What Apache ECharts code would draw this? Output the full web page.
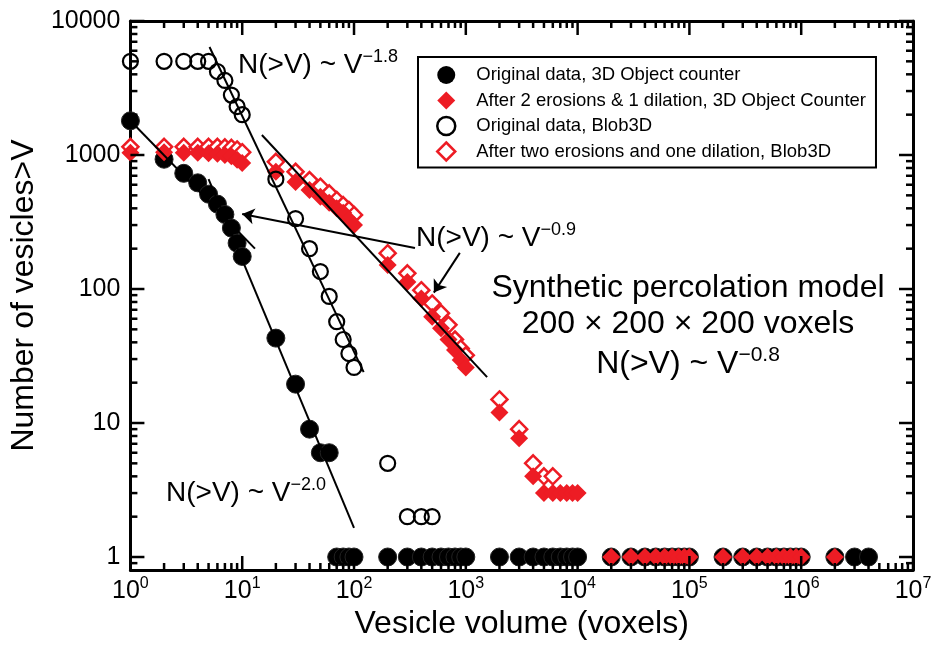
<!DOCTYPE html>
<html>
<head>
<meta charset="utf-8">
<script src="https://cdn.jsdelivr.net/npm/echarts@6/dist/echarts.min.js"></script>
<style>
  html, body { margin: 0; padding: 0; background: #fff; }
  #chart { width: 935px; height: 646px; }
</style>
</head>
<body>
<div id="chart"></div>
<script>
const FONT = '"Liberation Sans", Arial, Helvetica, sans-serif';
const RED = '#ED1C24';

// Axis ranges and tick labels
const X_MIN = 1, X_MAX = 1e7;
const Y_MIN = 0.8, Y_MAX = 10000;
const xTickExponents = ['0', '1', '2', '3', '4', '5', '6', '7'];
const yTickLabels = ['1', '10', '100', '1000', '10000'];

// Original data, 3D Object counter
const objVolumes = [1, 2, 3, 4, 5, 6, 7, 8, 9, 10,
  20, 30, 40, 50, 60, 70, 80, 90, 100,
  200, 300, 400, 500, 600, 700, 800, 900, 1000,
  2000, 3000, 4000, 5000, 6000, 7000, 8000, 9000, 10000,
  20000, 30000, 40000, 50000, 60000, 70000, 80000, 90000, 100000,
  200000, 300000, 400000, 500000, 600000, 700000, 800000, 900000, 1000000,
  2000000, 3000000, 4000000];
const objCounts = [1800, 930, 730, 620, 510, 430, 360, 285, 220, 175,
  43, 19.5, 9, 6, 6, 1, 1, 1, 1,
  1, 1, 1, 1, 1, 1, 1, 1, 1,
  1, 1, 1, 1, 1, 1, 1, 1, 1,
  1, 1, 1, 1, 1, 1, 1, 1, 1,
  1, 1, 1, 1, 1, 1, 1, 1, 1,
  1, 1, 1];

// After 2 erosions & 1 dilation, 3D Object Counter
const erodedObjVolumes = [1, 2, 3, 4, 5, 6, 7, 8, 9, 10,
  20, 30, 40, 50, 60, 70, 80, 90, 100,
  200, 300, 400, 500, 600, 700, 800, 900, 1000,
  2000, 3000, 4000, 5000, 6000, 7000, 8000, 9000, 10000,
  20000, 30000, 40000, 50000, 60000, 70000, 80000, 90000, 100000,
  200000, 300000, 400000, 500000, 600000, 700000, 800000, 900000, 1000000,
  2000000];
const erodedObjCounts = [1040, 1050, 1040, 1040, 1030, 1020, 1000, 980, 920, 870,
  750, 630, 548, 489, 440, 400, 370, 330, 300,
  151, 113, 85, 62, 51, 42, 35, 29.5, 26,
  12, 7.7, 4, 3, 3, 3, 3, 3, 3,
  1, 1, 1, 1, 1, 1, 1, 1, 1,
  1, 1, 1, 1, 1, 1, 1, 1, 1,
  1];

// Original data, Blob3D
const blobVolumes = [1, 2, 3, 4, 5, 6, 7, 8, 9, 10,
  20, 30, 40, 50, 60, 70, 80, 90, 100,
  200, 300, 400, 500];
const blobCounts = [5000, 5000, 5000, 5000, 5000, 4200, 3600, 2800, 2300, 2000,
  660, 335, 200, 135, 88, 57, 42, 33, 26,
  5, 2, 2, 2];

// After two erosions and one dilation, Blob3D
const erodedBlobVolumes = [1, 2, 3, 4, 5, 6, 7, 8, 9, 10,
  20, 30, 40, 50, 60, 70, 80, 90, 100,
  200, 300, 400, 500, 600, 700, 800, 900, 1000,
  2000, 3000, 4000, 5000, 6000];
const erodedBlobCounts = [1150, 1150, 1150, 1150, 1150, 1150, 1140, 1130, 1100, 1050,
  890, 750, 650, 580, 518, 462, 423, 389, 357,
  185, 131, 98, 78, 66, 54, 42, 36, 32,
  15, 9, 5, 4, 4];

// Power-law fits (end points)
const fitObjShallow = [[1, 1800], [13, 200]];
const fitObjSteep = [[5, 660], [100, 1.65]];
const fitBlob = [[5.1, 6400], [122, 24]];
const fitEroded = [[15, 1410], [1550, 22]];
// Pointers from the -0.9 label
const arrowToObj = [[351, 202], [10, 363]];
const arrowToEroded = [[884, 186], [518, 94]];

const pairs = (xs, ys) => xs.map((x, i) => [x, ys[i]]);

// Tick positions: decades plus 2..9 minor steps
function buildTicks(lo, hi) {
  const out = [];
  for (let e = -1; e <= 8; e++) {
    const d = Math.pow(10, e);
    if (d >= lo && d <= hi) out.push([d, 1]);
    for (let k = 2; k <= 9; k++) {
      const v = k * d;
      if (v > lo && v < hi) out.push([v, 0]);
    }
  }
  return out;
}
const xTicks = buildTicks(X_MIN, X_MAX);
const yTicks = buildTicks(Y_MIN, Y_MAX);

const TICK_STYLE = { stroke: '#000', lineWidth: 2.5 };
const MAJOR_LEN = 14, MINOR_LEN = 7;

function renderXTick(params, api) {
  const v = api.value(0);
  const len = api.value(2) === 1 ? MAJOR_LEN : MINOR_LEN;
  const b = api.coord([v, Y_MIN]);
  const t = api.coord([v, Y_MAX]);
  return {
    type: 'group',
    children: [
      { type: 'line', shape: { x1: b[0], y1: b[1], x2: b[0], y2: b[1] - len }, style: TICK_STYLE },
      { type: 'line', shape: { x1: t[0], y1: t[1], x2: t[0], y2: t[1] + len }, style: TICK_STYLE }
    ]
  };
}
function renderYTick(params, api) {
  const v = api.value(1);
  const len = api.value(2) === 1 ? MAJOR_LEN : MINOR_LEN;
  const l = api.coord([X_MIN, v]);
  const r = api.coord([X_MAX, v]);
  return {
    type: 'group',
    children: [
      { type: 'line', shape: { x1: l[0], y1: l[1], x2: l[0] + len, y2: l[1] }, style: TICK_STYLE },
      { type: 'line', shape: { x1: r[0], y1: r[1], x2: r[0] - len, y2: r[1] }, style: TICK_STYLE }
    ]
  };
}

function decadeIndex(v) {
  const e = Math.log10(v);
  const r = Math.round(e);
  return Math.abs(e - r) < 1e-6 ? r : null;
}

// Rich text for "N(>V) ~ V^p"
function powerRich(size, supSize, lh, supLh) {
  return {
    b: { fontSize: size, fontFamily: FONT, lineHeight: lh, fill: '#000', color: '#000' },
    s: { fontSize: supSize, fontFamily: FONT, lineHeight: supLh, verticalAlign: 'top', fill: '#000', color: '#000' }
  };
}
function textEl(text, x, y, size, align, rich) {
  const style = {
    text: text, x: x, y: y,
    fill: '#000',
    font: size + 'px ' + FONT,
    fontSize: size, fontFamily: FONT,
    align: align, textAlign: align,
    verticalAlign: 'top', textVerticalAlign: 'top'
  };
  if (rich) style.rich = rich;
  return { type: 'text', silent: true, z: 20, style: style };
}

const axisLineStyle = { show: true, lineStyle: { color: '#000', width: 3 } };

const chart = echarts.init(document.getElementById('chart'), null, { renderer: 'canvas' });

const NAMES = [
  'Original data, 3D Object counter',
  'After 2 erosions & 1 dilation, 3D Object Counter',
  'Original data, Blob3D',
  'After two erosions and one dilation, Blob3D'
];

chart.setOption({
  animation: false,
  backgroundColor: '#fff',
  grid: { left: 128, right: 22, top: 21, bottom: 76, containLabel: false },
  xAxis: [
    {
      type: 'log', logBase: 10, min: X_MIN, max: X_MAX, splitNumber: 7,
      position: 'bottom',
      axisLine: axisLineStyle, axisTick: { show: false }, splitLine: { show: false },
      axisLabel: {
        show: true, interval: 0, margin: 6, showMinLabel: true, showMaxLabel: true,
        formatter: function (v) {
          const i = decadeIndex(v);
          return i === null ? '' : '{b|10}{s|' + xTickExponents[i] + '}';
        },
        rich: {
          b: { fontSize: 25, lineHeight: 30, fontFamily: FONT, color: '#000' },
          s: { fontSize: 16, lineHeight: 18, verticalAlign: 'top', fontFamily: FONT, color: '#000' }
        }
      },
      name: 'Vesicle volume (voxels)', nameLocation: 'middle', nameGap: 38,
      nameTextStyle: { fontSize: 32, fontFamily: FONT, color: '#000' }
    },
    {
      type: 'log', logBase: 10, min: X_MIN, max: X_MAX, splitNumber: 7,
      position: 'top',
      axisLine: axisLineStyle, axisTick: { show: false }, axisLabel: { show: false }, splitLine: { show: false }
    }
  ],
  yAxis: [
    {
      type: 'log', logBase: 10, min: Y_MIN, max: Y_MAX, splitNumber: 5,
      position: 'left',
      axisLine: axisLineStyle, axisTick: { show: false }, splitLine: { show: false },
      axisLabel: {
        show: true, interval: 0, margin: 10, showMinLabel: true, showMaxLabel: true,
        fontSize: 25, fontFamily: FONT, color: '#000',
        formatter: function (v) {
          const i = decadeIndex(v);
          return i === null || i < 0 ? '' : yTickLabels[i];
        }
      },
      name: 'Number of vesicles>V', nameLocation: 'middle', nameGap: 82, nameRotate: 90,
      nameTextStyle: { fontSize: 32, fontFamily: FONT, color: '#000' }
    },
    {
      type: 'log', logBase: 10, min: Y_MIN, max: Y_MAX, splitNumber: 5,
      position: 'right',
      axisLine: axisLineStyle, axisTick: { show: false }, axisLabel: { show: false }, splitLine: { show: false }
    }
  ],
  legend: {
    orient: 'vertical', left: 418, top: 57,
    itemWidth: 18, itemHeight: 18, itemGap: 3.5,
    padding: [7, 10, 5, 18],
    borderColor: '#000', borderWidth: 2, backgroundColor: '#fff',
    selectedMode: false,
    formatter: function (name) { return '{g| }' + name; },
    textStyle: {
      fontSize: 18.5, fontFamily: FONT, color: '#000', lineHeight: 22,
      rich: { g: { width: 16, fontSize: 18.5, lineHeight: 22 } }
    },
    data: [
      { name: NAMES[0], icon: 'circle', itemStyle: { color: '#000', borderWidth: 0 } },
      { name: NAMES[1], icon: 'diamond', itemStyle: { color: RED, borderWidth: 0 } },
      { name: NAMES[2], icon: 'circle', itemStyle: { color: '#fff', borderColor: '#000', borderWidth: 2.5 } },
      { name: NAMES[3], icon: 'diamond', itemStyle: { color: '#fff', borderColor: RED, borderWidth: 2.5 } }
    ]
  },
  graphic: [
    textEl('{b|N(>V) ~ V}{s|\u22121.8}', 238, 48, 28, 'left', powerRich(28, 18, 34, 26)),
    textEl('{b|N(>V) ~ V}{s|\u22120.9}', 416, 221, 28, 'left', powerRich(28, 18, 34, 26)),
    textEl('{b|N(>V) ~ V}{s|\u22122.0}', 166, 476, 28, 'left', powerRich(28, 18, 34, 26)),
    textEl('Synthetic percolation model', 688, 272, 32, 'center'),
    textEl('200 \u00d7 200 \u00d7 200 voxels', 688, 308, 32, 'center'),
    textEl('{b|N(>V) ~ V}{s|\u22120.8}', 688, 345, 32, 'center', powerRich(32, 21, 38, 30))
  ],
  series: [
    {
      name: NAMES[0], type: 'scatter', symbol: 'circle', symbolSize: 18,
      data: pairs(objVolumes, objCounts), silent: true, z: 2,
      itemStyle: { color: '#000', borderColor: '#222', borderWidth: 1, opacity: 1 }
    },
    {
      name: NAMES[3], type: 'scatter', symbol: 'diamond', symbolSize: 16,
      data: pairs(erodedBlobVolumes, erodedBlobCounts), silent: true, z: 2,
      itemStyle: { color: '#fff', borderColor: RED, borderWidth: 2.5, opacity: 1 }
    },
    {
      name: NAMES[1], type: 'scatter', symbol: 'diamond', symbolSize: 18,
      data: pairs(erodedObjVolumes, erodedObjCounts), silent: true, z: 2,
      itemStyle: { color: RED, borderWidth: 0, opacity: 1 }
    },
    {
      name: NAMES[2], type: 'scatter', symbol: 'circle', symbolSize: 15,
      data: pairs(blobVolumes, blobCounts), silent: true, z: 2,
      itemStyle: { color: 'rgba(255,255,255,0)', borderColor: '#000', borderWidth: 2.2, opacity: 1 }
    },
    {
      type: 'line', data: fitObjShallow, showSymbol: false, silent: true, z: 3,
      lineStyle: { color: '#000', width: 2 }
    },
    {
      type: 'line', data: fitObjSteep, showSymbol: false, silent: true, z: 3,
      lineStyle: { color: '#000', width: 2 }
    },
    {
      type: 'line', data: fitBlob, showSymbol: false, silent: true, z: 3,
      lineStyle: { color: '#000', width: 2 }
    },
    {
      type: 'line', data: fitEroded, showSymbol: false, silent: true, z: 3,
      lineStyle: { color: '#000', width: 2 },
      markLine: {
        silent: true, symbol: ['none', 'arrow'], symbolSize: 12,
        label: { show: false },
        lineStyle: { color: '#000', width: 2, type: 'solid' },
        emphasis: { disabled: true },
        data: [
          [{ coord: arrowToObj[0] }, { coord: arrowToObj[1] }],
          [{ coord: arrowToEroded[0] }, { coord: arrowToEroded[1] }]
        ]
      }
    },
    {
      type: 'custom', renderItem: renderXTick, silent: true, z: 10, clip: false,
      encode: { x: 0, y: 1 },
      data: xTicks.map(t => [t[0], Y_MIN, t[1]])
    },
    {
      type: 'custom', renderItem: renderYTick, silent: true, z: 10, clip: false,
      encode: { x: 0, y: 1 },
      data: yTicks.map(t => [X_MIN, t[0], t[1]])
    }
  ]
});
</script>
</body>
</html>
